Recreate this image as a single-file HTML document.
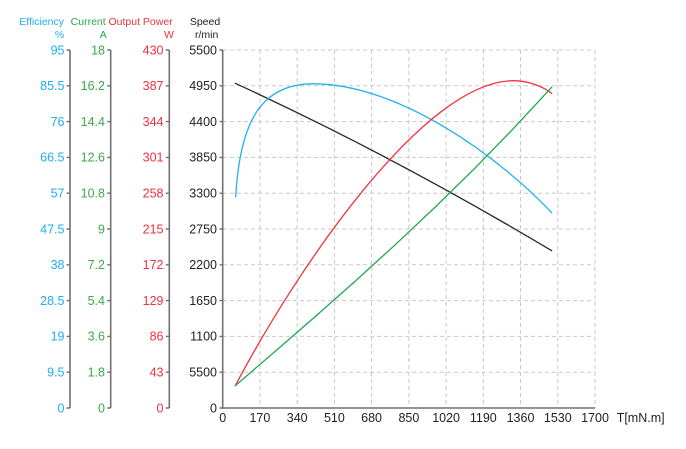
<!DOCTYPE html>
<html><head><meta charset="utf-8"><style>
html,body{margin:0;padding:0;background:#fff;}
svg{display:block;font-family:"Liberation Sans",sans-serif;}
</style></head><body>
<svg width="686" height="449" viewBox="0 0 686 449" xmlns="http://www.w3.org/2000/svg">
<rect width="686" height="449" fill="#fff"/>
<!-- grid -->
<g stroke="#c9c9c9" stroke-width="1" stroke-dasharray="4,3" fill="none">
<line x1="223" y1="50" x2="595" y2="50"/>
<line x1="223" y1="85.8" x2="595" y2="85.8"/>
<line x1="223" y1="121.6" x2="595" y2="121.6"/>
<line x1="223" y1="157.4" x2="595" y2="157.4"/>
<line x1="223" y1="193.2" x2="595" y2="193.2"/>
<line x1="223" y1="229" x2="595" y2="229"/>
<line x1="223" y1="264.8" x2="595" y2="264.8"/>
<line x1="223" y1="300.6" x2="595" y2="300.6"/>
<line x1="223" y1="336.4" x2="595" y2="336.4"/>
<line x1="223" y1="372.2" x2="595" y2="372.2"/>
<line x1="259.9" y1="50" x2="259.9" y2="408"/>
<line x1="297.2" y1="50" x2="297.2" y2="408"/>
<line x1="334.4" y1="50" x2="334.4" y2="408"/>
<line x1="371.6" y1="50" x2="371.6" y2="408"/>
<line x1="408.9" y1="50" x2="408.9" y2="408"/>
<line x1="446.1" y1="50" x2="446.1" y2="408"/>
<line x1="483.3" y1="50" x2="483.3" y2="408"/>
<line x1="520.5" y1="50" x2="520.5" y2="408"/>
<line x1="557.8" y1="50" x2="557.8" y2="408"/>
<line x1="595" y1="50" x2="595" y2="408"/>
</g>
<!-- axes -->
<g stroke="#717171" stroke-width="1.6" fill="none">
<line x1="70" y1="50" x2="70" y2="408"/>
<line x1="110.7" y1="50" x2="110.7" y2="408"/>
<line x1="169.3" y1="50" x2="169.3" y2="408"/>
<line x1="222.7" y1="50" x2="222.7" y2="408.8"/>
<line x1="222" y1="408" x2="595" y2="408"/>
</g>
<g stroke="#717171" stroke-width="1.4">
<path d="M66.5 50H70M66.5 85.8H70M66.5 121.6H70M66.5 157.4H70M66.5 193.2H70M66.5 229H70M66.5 264.8H70M66.5 300.6H70M66.5 336.4H70M66.5 372.2H70M66.5 408H70"/>
<path d="M107.2 50H110.7M107.2 85.8H110.7M107.2 121.6H110.7M107.2 157.4H110.7M107.2 193.2H110.7M107.2 229H110.7M107.2 264.8H110.7M107.2 300.6H110.7M107.2 336.4H110.7M107.2 372.2H110.7M107.2 408H110.7"/>
<path d="M165.8 50H169.3M165.8 85.8H169.3M165.8 121.6H169.3M165.8 157.4H169.3M165.8 193.2H169.3M165.8 229H169.3M165.8 264.8H169.3M165.8 300.6H169.3M165.8 336.4H169.3M165.8 372.2H169.3M165.8 408H169.3"/>
<path d="M219.5 50H222.7M219.5 85.8H222.7M219.5 121.6H222.7M219.5 157.4H222.7M219.5 193.2H222.7M219.5 229H222.7M219.5 264.8H222.7M219.5 300.6H222.7M219.5 336.4H222.7M219.5 372.2H222.7M219.5 408H222.7"/>
</g>
<!-- headers -->
<g font-size="10.5">
<text x="64" y="25" text-anchor="end" fill="#1faeee">Efficiency</text>
<text x="59.5" y="38" text-anchor="middle" fill="#1faeee">%</text>
<text x="105.7" y="25" text-anchor="end" fill="#25a84f">Current</text>
<text x="103.3" y="38" text-anchor="middle" fill="#25a84f">A</text>
<text x="172.7" y="25" text-anchor="end" fill="#f0313f">Output Power</text>
<text x="169" y="38" text-anchor="middle" fill="#f0313f">W</text>
<text x="205" y="25" text-anchor="middle" fill="#222">Speed</text>
<text x="206.7" y="38" text-anchor="middle" fill="#222">r/min</text>
</g>
<!-- tick labels -->
<g font-size="12.5" text-anchor="end">
<g fill="#1faeee">
<text x="64.5" y="54.3">95</text><text x="64.5" y="90.1">85.5</text><text x="64.5" y="125.9">76</text><text x="64.5" y="161.7">66.5</text><text x="64.5" y="197.5">57</text><text x="64.5" y="233.3">47.5</text><text x="64.5" y="269.1">38</text><text x="64.5" y="304.9">28.5</text><text x="64.5" y="340.7">19</text><text x="64.5" y="376.5">9.5</text><text x="64.5" y="412.3">0</text>
</g>
<g fill="#3aaa4a">
<text x="105" y="54.3">18</text><text x="105" y="90.1">16.2</text><text x="105" y="125.9">14.4</text><text x="105" y="161.7">12.6</text><text x="105" y="197.5">10.8</text><text x="105" y="233.3">9</text><text x="105" y="269.1">7.2</text><text x="105" y="304.9">5.4</text><text x="105" y="340.7">3.6</text><text x="105" y="376.5">1.8</text><text x="105" y="412.3">0</text>
</g>
<g fill="#f0313f">
<text x="163.5" y="54.3">430</text><text x="163.5" y="90.1">387</text><text x="163.5" y="125.9">344</text><text x="163.5" y="161.7">301</text><text x="163.5" y="197.5">258</text><text x="163.5" y="233.3">215</text><text x="163.5" y="269.1">172</text><text x="163.5" y="304.9">129</text><text x="163.5" y="340.7">86</text><text x="163.5" y="376.5">43</text><text x="163.5" y="412.3">0</text>
</g>
<g fill="#222">
<text x="217" y="54.3">5500</text><text x="217" y="90.1">4950</text><text x="217" y="125.9">4400</text><text x="217" y="161.7">3850</text><text x="217" y="197.5">3300</text><text x="217" y="233.3">2750</text><text x="217" y="269.1">2200</text><text x="217" y="304.9">1650</text><text x="217" y="340.7">1100</text><text x="217" y="376.5">5500</text><text x="217" y="412.3">0</text>
</g>
</g>
<g font-size="12.5" text-anchor="middle" fill="#222">
<text x="222.7" y="422">0</text>
<text x="259.9" y="422">170</text>
<text x="297.2" y="422">340</text>
<text x="334.4" y="422">510</text>
<text x="371.6" y="422">680</text>
<text x="408.9" y="422">850</text>
<text x="446.1" y="422">1020</text>
<text x="483.3" y="422">1190</text>
<text x="520.5" y="422">1360</text>
<text x="557.8" y="422">1530</text>
<text x="595" y="422">1700</text>
<text x="616.7" y="422" text-anchor="start">T[mN.m]</text>
</g>
<!-- curves -->
<g fill="none" stroke-width="1.3" stroke-linejoin="round" stroke-linecap="round">
<path stroke="#2a2a2a" d="M235.3,83.3 Q393.5,156.1 551.7,250.7"/>
<path stroke="#1fb2f0" d="M235.7,196.7 C240,120 262,83.8 313.3,83.8 C400,83.8 500,158 551.7,212.7"/>
<path stroke="#f0323f" d="M235.3,385.7 C295.3,271.7 423.3,80.7 513.3,80.7 C528,80.7 542,86 551.7,93.3"/>
<polyline stroke="#1ea94f" points="235.3,385.7 275.3,351.2 315.3,316.5 355.3,281.1 395.3,244.7 435.3,207 475.3,167.8 515.3,126.6 551.7,87.2"/>
</g>
</svg>
</body></html>
